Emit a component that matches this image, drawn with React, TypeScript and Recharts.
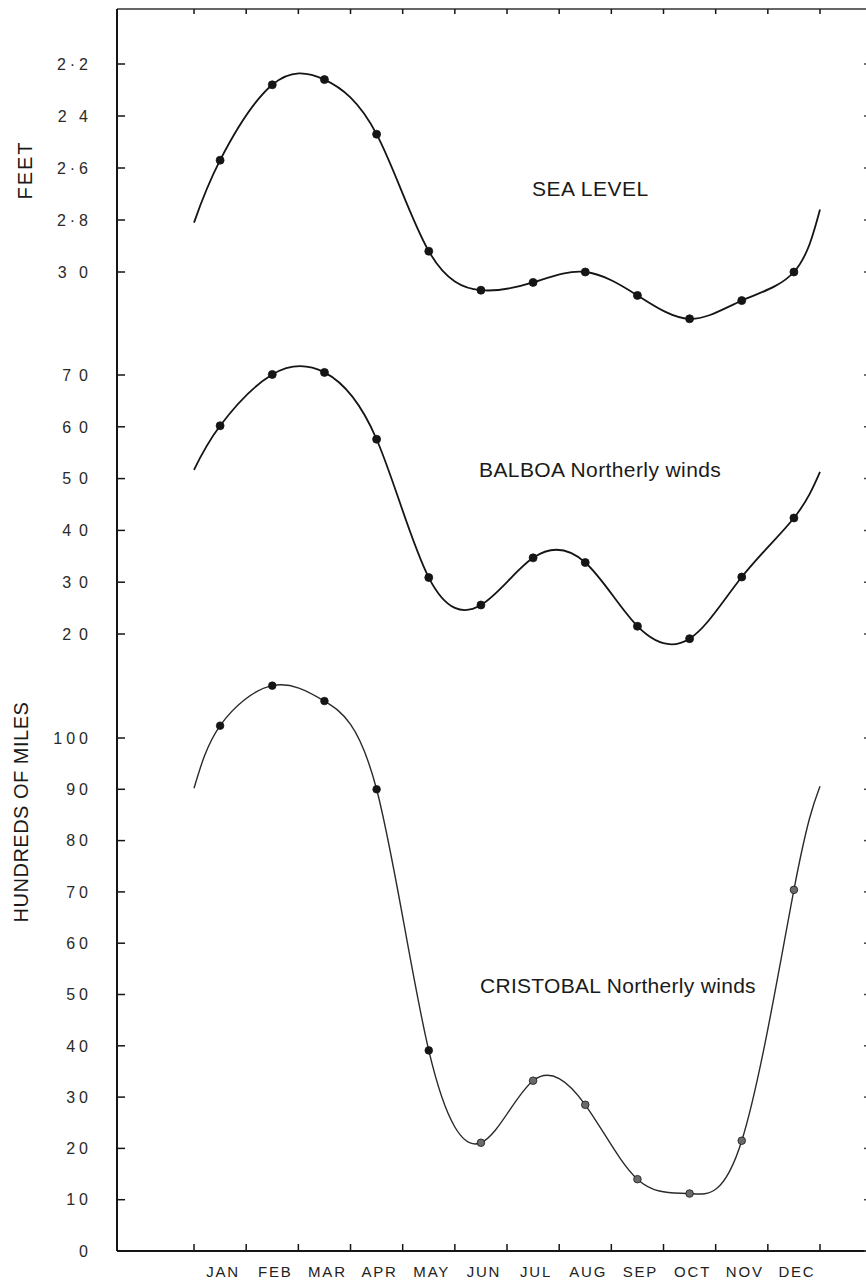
import React from "react";
import { ComposedChart, Line, XAxis, YAxis } from "recharts";

const monthNames = ["JAN", "FEB", "MAR", "APR", "MAY", "JUN", "JUL", "AUG", "SEP", "OCT", "NOV", "DEC"];
// 0 = start of Jan, 12 = end of Dec. first / last entries are where the drawn curves start and stop
const monthPos = [0, 0.5, 1.5, 2.5, 3.5, 4.5, 5.5, 6.5, 7.5, 8.5, 9.5, 10.5, 11.5, 12];
const seaLevel = [2.81, 2.57, 2.28, 2.26, 2.47, 2.92, 3.07, 3.04, 3.0, 3.09, 3.18, 3.11, 3.0, 2.76];
const balboa = [51.7, 60.2, 70.1, 70.5, 57.6, 30.9, 25.6, 34.7, 33.8, 21.5, 19.1, 31.0, 42.4, 51.3];
const cristobal = [90.2, 102.4, 110.2, 107.2, 90.0, 39.1, 21.1, 33.2, 28.5, 14.0, 11.2, 21.5, 70.4, 90.6];

const monthEdges = [0, 1, 2, 3, 4, 5, 6, 7, 8, 9, 10, 11, 12];
const monthMids = [0.5, 1.5, 2.5, 3.5, 4.5, 5.5, 6.5, 7.5, 8.5, 9.5, 10.5, 11.5];
const seaTicks = [2.2, 2.4, 2.6, 2.8, 3.0];
const seaTickLabels = ["2·2", "2 4", "2·6", "2·8", "3 0"];
const balboaTicks = [20, 30, 40, 50, 60, 70];
const cristobalTicks = [0, 10, 20, 30, 40, 50, 60, 70, 80, 90, 100];

const data = monthPos.map((m, i) => ({
  m,
  sea: seaLevel[i],
  balboa: balboa[i],
  cristobal: cristobal[i],
}));

// one plot frame holds three stacked panels, each with its own y scale
const W = 874;
const H = 1285;
const margin = { top: 9, right: 4, bottom: 4, left: 117 };
const LABEL_AXIS_H = 30;
const PLOT_TOP = margin.top;
const PLOT_BOTTOM = H - margin.bottom - LABEL_AXIS_H;
const PLOT_LEFT = margin.left;
const PLOT_RIGHT = W - margin.right;
const THIN = 0.01; // axes share one x; recharts skips an axis of width 0

// stretch a scale pinned by two ticks over the whole plot: [value at lo, value at hi]
function fit(v1: number, p1: number, v2: number, p2: number, lo: number, hi: number) {
  const k = (v2 - v1) / (p2 - p1);
  return [v1 + (lo - p1) * k, v1 + (hi - p1) * k];
}

const seaEnds = fit(2.2, 64, 3.0, 272, PLOT_TOP, PLOT_BOTTOM); // grows downward
const seaDomain = [seaEnds[0], seaEnds[1]];
const balEnds = fit(70, 375, 20, 634, PLOT_TOP, PLOT_BOTTOM);
const balDomain = [balEnds[1], balEnds[0]];
const criEnds = fit(100, 738, 0, PLOT_BOTTOM, PLOT_TOP, PLOT_BOTTOM);
const criDomain = [criEnds[1], criEnds[0]];
const xDomain = fit(0, 194, 12, 820, PLOT_LEFT, PLOT_RIGHT);

const FONT = "'Liberation Sans', Arial, sans-serif";
const INK = "#151515";
const frame = { stroke: INK, strokeWidth: 2 };
const blank = () => "";

// y tick label, right edge on the anchor (letter-spacing would otherwise pad the end)
const yTick = (spacing: number, label?: (v: number) => string) => (props: any) => {
  const { x, y, payload } = props;
  const v = payload.value;
  return (
    <text x={x + spacing} y={y} dy="0.36em" textAnchor="end" fontSize={16} fontFamily={FONT}
      fill="#2a2a2a" letterSpacing={spacing}>
      {label ? label(v) : String(v)}
    </text>
  );
};

const makeDot = (fill: (i: number) => string, r: number) => (props: any) => {
  const { cx, cy, index } = props;
  if (index === 0 || index === monthPos.length - 1 || cx == null) return <g key={`e${index}`} />;
  return <circle key={`d${index}`} cx={cx} cy={cy} r={r} fill={fill(index)} stroke={INK} strokeWidth={0.8} />;
};

const panels = [
  { id: "sea", domain: seaDomain, ticks: seaTicks, reversed: true },
  { id: "bal", domain: balDomain, ticks: balboaTicks, reversed: false },
  { id: "cri", domain: criDomain, ticks: cristobalTicks, reversed: false },
];

export default function App() {
  return (
    <div style={{ position: "fixed", left: 0, top: 0, width: 866, height: 1285, overflow: "hidden", background: "#fff" }}>
      <ComposedChart width={W} height={H} data={data} margin={margin}>
        <XAxis xAxisId="edges" dataKey="m" type="number" orientation="bottom" mirror domain={xDomain} allowDataOverflow
          ticks={monthEdges} interval={0} tickFormatter={blank} tickSize={7} tickLine={{ stroke: INK, strokeWidth: 1.5 }} axisLine={frame} />
        <XAxis xAxisId="top" dataKey="m" type="number" orientation="top" mirror domain={xDomain} allowDataOverflow
          ticks={monthEdges} interval={0} tickFormatter={blank} tickSize={5} tickLine={{ stroke: INK, strokeWidth: 1.5 }}
          axisLine={{ stroke: "#333", strokeWidth: 1.6 }} />
        <XAxis xAxisId="months" dataKey="m" type="number" orientation="bottom" height={LABEL_AXIS_H} domain={xDomain} allowDataOverflow
          ticks={monthMids} interval={0} tickFormatter={(v: number) => monthNames[Math.floor(v)]}
          axisLine={false} tickLine={false} tickSize={0} tickMargin={15}
          tick={{ fontSize: 15, fill: "#222", fontFamily: FONT, letterSpacing: 1.8, dx: 3 }} />

        <YAxis yAxisId="sea" type="number" width={THIN} domain={seaDomain} reversed allowDataOverflow ticks={seaTicks} interval={0}
          tickLine={false} tickSize={0} tickMargin={29} axisLine={frame}
          tick={yTick(4, (v) => seaTickLabels[seaTicks.indexOf(v)])} />
        <YAxis yAxisId="bal" type="number" width={THIN} domain={balDomain} allowDataOverflow ticks={balboaTicks} interval={0}
          tickLine={false} tickSize={0} tickMargin={29} axisLine={false} tick={yTick(8)} />
        <YAxis yAxisId="cri" type="number" width={THIN} domain={criDomain} allowDataOverflow ticks={cristobalTicks} interval={0}
          tickLine={false} tickSize={0} tickMargin={29} axisLine={false} tick={yTick(4)} />

        {panels.map((p) => (
          <YAxis key={`${p.id}In`} yAxisId={`${p.id}In`} type="number" orientation="left" mirror width={THIN} domain={p.domain}
            reversed={p.reversed} allowDataOverflow ticks={p.ticks} interval={0} tickFormatter={blank} tickSize={8}
            tickLine={{ stroke: INK, strokeWidth: 1.5 }} axisLine={false} />
        ))}
        {panels.map((p) => (
          <YAxis key={`${p.id}R`} yAxisId={`${p.id}R`} type="number" orientation="right" mirror width={THIN} domain={p.domain}
            reversed={p.reversed} allowDataOverflow ticks={p.ticks} interval={0} tickFormatter={blank} tickSize={6}
            tickLine={{ stroke: "#444", strokeWidth: 1.5 }} axisLine={frame} />
        ))}

        <Line xAxisId="edges" yAxisId="sea" dataKey="sea" type="natural" stroke={INK} strokeWidth={1.8}
          dot={makeDot(() => INK, 4)} activeDot={false} isAnimationActive={false} />
        <Line xAxisId="edges" yAxisId="bal" dataKey="balboa" type="natural" stroke={INK} strokeWidth={1.8}
          dot={makeDot(() => INK, 4)} activeDot={false} isAnimationActive={false} />
        <Line xAxisId="edges" yAxisId="cri" dataKey="cristobal" type="natural" stroke="#2a2a2a" strokeWidth={1.4}
          dot={makeDot((i) => (i <= 5 ? INK : "#6a6a6a"), 3.8)} activeDot={false} isAnimationActive={false} />
      </ComposedChart>

      <svg width={866} height={1285} style={{ position: "absolute", left: 0, top: 0, pointerEvents: "none" }}>
        <g fontFamily={FONT} fill="#1a1a1a">
          <text x={25} y={170} fontSize={20} letterSpacing={2} textAnchor="middle" dominantBaseline="central"
            transform="rotate(-90 25 170)">FEET</text>
          <text x={21} y={812} fontSize={20} letterSpacing={0.5} textAnchor="middle" dominantBaseline="central"
            transform="rotate(-90 21 812)">HUNDREDS OF MILES</text>
          <text x={532} y={196} fontSize={21} letterSpacing={0.5}>SEA LEVEL</text>
          <text x={479} y={477} fontSize={21} letterSpacing={0.4}>BALBOA  Northerly winds</text>
          <text x={480} y={993} fontSize={21} letterSpacing={0.3}>CRISTOBAL  Northerly winds</text>
        </g>
      </svg>
    </div>
  );
}
